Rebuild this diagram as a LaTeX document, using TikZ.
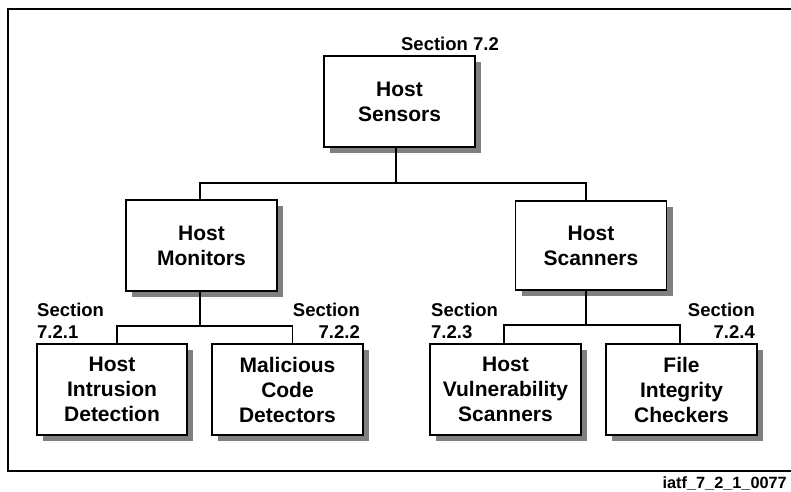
\documentclass[tikz,border=0pt]{standalone}
\usepackage{fontspec}
\setmainfont{Liberation Sans}
\usetikzlibrary{shadows}
\definecolor{shadowgray}{HTML}{808080}
\tikzset{
  hostbox/.style={draw, line width=1.6pt, fill=white, minimum width=151pt, minimum height=91pt,
    inner sep=0pt, align=center, font=\bfseries\fontsize{21}{25}\selectfont,
    drop shadow={shadow xshift=6pt, shadow yshift=-6pt, fill=shadowgray, opacity=1}},
  seclabel/.style={inner sep=0pt, font=\bfseries\fontsize{18.5}{22}\selectfont},
  conn/.style={line width=1.6pt},
}
\begin{document}
\begin{tikzpicture}[x=1pt, y=-1pt]
\useasboundingbox (0,0) rectangle (791,491);
% frame
\draw[line width=2pt] (791,9) -- (8,9) -- (8,471) -- (791,471);
% boxes
\node[hostbox] (sensors) at (399.5,101.5) {Host\\Sensors};
\node[hostbox] (monitors) at (201.5,245.5) {Host\\Monitors};
\node[hostbox, minimum height=89pt] (scanners) at (591,245.5) {Host\\Scanners};
\node[hostbox, minimum width=150pt] (hid) at (112,389.5) {Host\\Intrusion\\Detection};
\node[hostbox] (mcd) at (287.5,389.5) {Malicious\\Code\\Detectors};
\node[hostbox] (hvs) at (505.5,389.5) {Host\\Vulnerability\\Scanners};
\node[hostbox] (fic) at (681.5,389.5) {File\\Integrity\\Checkers};
% junctions
\coordinate (b1) at (396,183);
\coordinate (b2) at (200,326);
\coordinate (b3) at (586,325);
% connectors
\draw[conn] ([xshift=-3.5pt]sensors.south) -- (b1);
\draw[conn] ([xshift=-1.5pt]monitors.north) |- (b1) -| ([xshift=-5pt]scanners.north);
\draw[conn] ([xshift=-1.5pt]monitors.south) -- (b2);
\draw[conn] ([xshift=5pt]hid.north) |- (b2) -| ([xshift=5pt]mcd.north);
\draw[conn] ([xshift=-5pt]scanners.south) -- (b3);
\draw[conn] ([xshift=-1.5pt]hvs.north) |- (b3) -| ([xshift=-1.5pt]fic.north);
% section labels
\node[seclabel, anchor=base east] (s72) at (499,50) {Section 7.2};
\node[seclabel, anchor=south west, align=left] (s721) at (37,339) {Section\\7.2.1};
\node[seclabel, anchor=south east, align=right] (s722) at (360,339) {Section\\7.2.2};
\node[seclabel, anchor=south west, align=left] (s723) at (431,339) {Section\\7.2.3};
\node[seclabel, anchor=south east, align=right] (s724) at (755,339) {Section\\7.2.4};
% figure id
\node[inner sep=0pt, anchor=base east, font=\bfseries\fontsize{16.3}{19}\selectfont] (fid) at (787,488) {iatf\_7\_2\_1\_0077};
\end{tikzpicture}
\end{document}
